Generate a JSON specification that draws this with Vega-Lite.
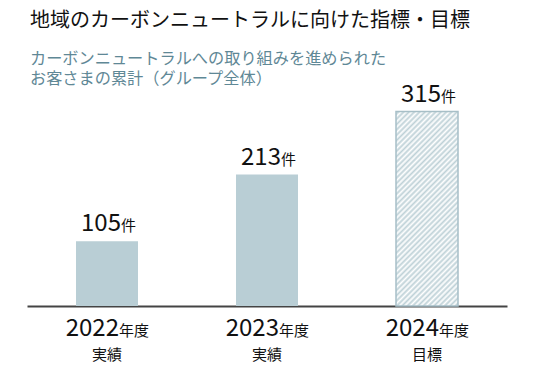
{
  "$schema": "https://vega.github.io/schema/vega-lite/v6.json",
  "autosize": "none",
  "width": 480,
  "height": 216,
  "padding": {"left": 27, "top": 90, "right": 29, "bottom": 64},
  "background": "#ffffff",
  "config": {
    "view": {"stroke": null},
    "font": "Noto Sans CJK JP",
    "text": {"font": "Noto Sans CJK JP", "color": "#111111"}
  },
  "title": {
    "text": "地域のカーボンニュートラルに向けた指標・目標",
    "subtitle": ["カーボンニュートラルへの取り組みを進められた", "お客さまの累計（グループ全体）"],
    "anchor": "start",
    "frame": "group",
    "dx": 3,
    "offset": -5,
    "font": "Noto Sans CJK JP",
    "fontSize": 20,
    "fontWeight": "normal",
    "color": "#111111",
    "subtitleFont": "Noto Sans CJK JP",
    "subtitleFontSize": 16.2,
    "subtitleColor": "#5f8896",
    "subtitleLineHeight": 20,
    "subtitlePadding": 20
  },
  "data": {
    "values": [
      {"year": "2022", "value": 105, "type": "実績"},
      {"year": "2023", "value": 213, "type": "実績"},
      {"year": "2024", "value": 315, "type": "目標"}
    ]
  },
  "encoding": {
    "x": {
      "field": "year",
      "type": "nominal",
      "scale": {"paddingInner": 0, "paddingOuter": 0},
      "axis": {"title": null, "labels": false, "ticks": false, "domainColor": "#444444", "domainWidth": 2, "grid": false}
    }
  },
  "layer": [
    {
      "transform": [{"filter": "datum.type === '実績'"}],
      "mark": {"type": "bar", "width": 62, "color": "#b9ced5"},
      "encoding": {
        "y": {"field": "value", "type": "quantitative", "scale": {"domain": [0, 350], "nice": false}, "axis": null}
      }
    },
    {
      "transform": [{"filter": "datum.type === '目標'"}],
      "mark": {
        "type": "bar",
        "width": 62,
        "stroke": "#a7bfc7",
        "strokeWidth": 1.5,
        "fill": {
          "gradient": "linear",
          "x1": 0, "y1": 0, "x2": 0.3827, "y2": 1.1973,
          "stops": [
            {"offset": 0, "color": "#ffffff"},
            {"offset": 0.0104, "color": "#bed1d7"},
            {"offset": 0.0208, "color": "#ffffff"},
            {"offset": 0.0313, "color": "#bed1d7"},
            {"offset": 0.0417, "color": "#ffffff"},
            {"offset": 0.0521, "color": "#bed1d7"},
            {"offset": 0.0625, "color": "#ffffff"},
            {"offset": 0.0729, "color": "#bed1d7"},
            {"offset": 0.0833, "color": "#ffffff"},
            {"offset": 0.0938, "color": "#bed1d7"},
            {"offset": 0.1042, "color": "#ffffff"},
            {"offset": 0.1146, "color": "#bed1d7"},
            {"offset": 0.125, "color": "#ffffff"},
            {"offset": 0.1354, "color": "#bed1d7"},
            {"offset": 0.1458, "color": "#ffffff"},
            {"offset": 0.1563, "color": "#bed1d7"},
            {"offset": 0.1667, "color": "#ffffff"},
            {"offset": 0.1771, "color": "#bed1d7"},
            {"offset": 0.1875, "color": "#ffffff"},
            {"offset": 0.1979, "color": "#bed1d7"},
            {"offset": 0.2083, "color": "#ffffff"},
            {"offset": 0.2188, "color": "#bed1d7"},
            {"offset": 0.2292, "color": "#ffffff"},
            {"offset": 0.2396, "color": "#bed1d7"},
            {"offset": 0.25, "color": "#ffffff"},
            {"offset": 0.2604, "color": "#bed1d7"},
            {"offset": 0.2708, "color": "#ffffff"},
            {"offset": 0.2813, "color": "#bed1d7"},
            {"offset": 0.2917, "color": "#ffffff"},
            {"offset": 0.3021, "color": "#bed1d7"},
            {"offset": 0.3125, "color": "#ffffff"},
            {"offset": 0.3229, "color": "#bed1d7"},
            {"offset": 0.3333, "color": "#ffffff"},
            {"offset": 0.3438, "color": "#bed1d7"},
            {"offset": 0.3542, "color": "#ffffff"},
            {"offset": 0.3646, "color": "#bed1d7"},
            {"offset": 0.375, "color": "#ffffff"},
            {"offset": 0.3854, "color": "#bed1d7"},
            {"offset": 0.3958, "color": "#ffffff"},
            {"offset": 0.4063, "color": "#bed1d7"},
            {"offset": 0.4167, "color": "#ffffff"},
            {"offset": 0.4271, "color": "#bed1d7"},
            {"offset": 0.4375, "color": "#ffffff"},
            {"offset": 0.4479, "color": "#bed1d7"},
            {"offset": 0.4583, "color": "#ffffff"},
            {"offset": 0.4688, "color": "#bed1d7"},
            {"offset": 0.4792, "color": "#ffffff"},
            {"offset": 0.4896, "color": "#bed1d7"},
            {"offset": 0.5, "color": "#ffffff"},
            {"offset": 0.5104, "color": "#bed1d7"},
            {"offset": 0.5208, "color": "#ffffff"},
            {"offset": 0.5313, "color": "#bed1d7"},
            {"offset": 0.5417, "color": "#ffffff"},
            {"offset": 0.5521, "color": "#bed1d7"},
            {"offset": 0.5625, "color": "#ffffff"},
            {"offset": 0.5729, "color": "#bed1d7"},
            {"offset": 0.5833, "color": "#ffffff"},
            {"offset": 0.5938, "color": "#bed1d7"},
            {"offset": 0.6042, "color": "#ffffff"},
            {"offset": 0.6146, "color": "#bed1d7"},
            {"offset": 0.625, "color": "#ffffff"},
            {"offset": 0.6354, "color": "#bed1d7"},
            {"offset": 0.6458, "color": "#ffffff"},
            {"offset": 0.6563, "color": "#bed1d7"},
            {"offset": 0.6667, "color": "#ffffff"},
            {"offset": 0.6771, "color": "#bed1d7"},
            {"offset": 0.6875, "color": "#ffffff"},
            {"offset": 0.6979, "color": "#bed1d7"},
            {"offset": 0.7083, "color": "#ffffff"},
            {"offset": 0.7188, "color": "#bed1d7"},
            {"offset": 0.7292, "color": "#ffffff"},
            {"offset": 0.7396, "color": "#bed1d7"},
            {"offset": 0.75, "color": "#ffffff"},
            {"offset": 0.7604, "color": "#bed1d7"},
            {"offset": 0.7708, "color": "#ffffff"},
            {"offset": 0.7813, "color": "#bed1d7"},
            {"offset": 0.7917, "color": "#ffffff"},
            {"offset": 0.8021, "color": "#bed1d7"},
            {"offset": 0.8125, "color": "#ffffff"},
            {"offset": 0.8229, "color": "#bed1d7"},
            {"offset": 0.8333, "color": "#ffffff"},
            {"offset": 0.8438, "color": "#bed1d7"},
            {"offset": 0.8542, "color": "#ffffff"},
            {"offset": 0.8646, "color": "#bed1d7"},
            {"offset": 0.875, "color": "#ffffff"},
            {"offset": 0.8854, "color": "#bed1d7"},
            {"offset": 0.8958, "color": "#ffffff"},
            {"offset": 0.9063, "color": "#bed1d7"},
            {"offset": 0.9167, "color": "#ffffff"},
            {"offset": 0.9271, "color": "#bed1d7"},
            {"offset": 0.9375, "color": "#ffffff"},
            {"offset": 0.9479, "color": "#bed1d7"},
            {"offset": 0.9583, "color": "#ffffff"},
            {"offset": 0.9688, "color": "#bed1d7"},
            {"offset": 0.9792, "color": "#ffffff"},
            {"offset": 0.9896, "color": "#bed1d7"},
            {"offset": 1, "color": "#ffffff"}
          ]
        }
      },
      "encoding": {
        "y": {"field": "value", "type": "quantitative", "scale": {"domain": [0, 350], "nice": false}, "axis": null}
      }
    },
    {
      "mark": {"type": "text", "align": "right", "baseline": "alphabetic", "dx": 14, "dy": -10, "fontSize": 24},
      "encoding": {
        "y": {"field": "value", "type": "quantitative"},
        "text": {"field": "value", "type": "quantitative"}
      }
    },
    {
      "mark": {"type": "text", "align": "left", "baseline": "alphabetic", "dx": 14, "dy": -10, "fontSize": 15, "text": "件"},
      "encoding": {
        "y": {"field": "value", "type": "quantitative"}
      }
    },
    {
      "mark": {"type": "text", "align": "right", "baseline": "alphabetic", "dx": 12, "dy": 30, "fontSize": 24},
      "encoding": {
        "y": {"datum": 0, "type": "quantitative"},
        "text": {"field": "year", "type": "nominal"}
      }
    },
    {
      "mark": {"type": "text", "align": "left", "baseline": "alphabetic", "dx": 12, "dy": 30, "fontSize": 15, "text": "年度"},
      "encoding": {
        "y": {"datum": 0, "type": "quantitative"}
      }
    },
    {
      "mark": {"type": "text", "align": "center", "baseline": "alphabetic", "dy": 54, "fontSize": 15},
      "encoding": {
        "y": {"datum": 0, "type": "quantitative"},
        "text": {"field": "type", "type": "nominal"}
      }
    }
  ]
}
